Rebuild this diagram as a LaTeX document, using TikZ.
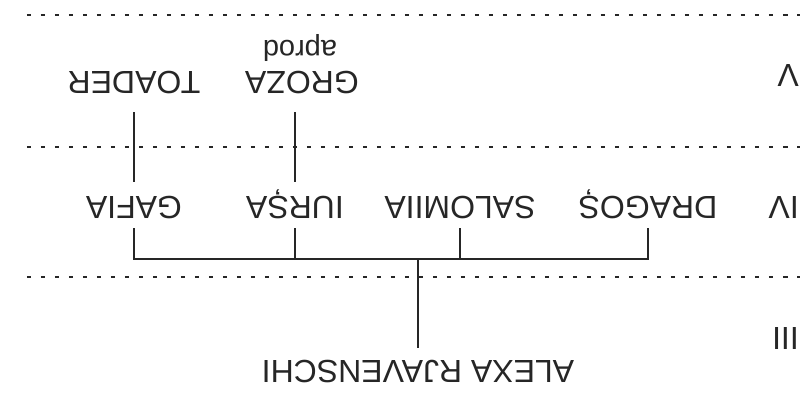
\documentclass[tikz,border=0pt]{standalone}
\usepackage{fontspec}
\setmainfont{Liberation Sans}
\definecolor{ink}{HTML}{262626}
\begin{document}
\begin{tikzpicture}[x=1pt,y=1pt,rotate=180,transform shape,
  person/.style={inner sep=0pt, text height=23pt, text depth=0pt,
    font=\fontsize{32}{38}\selectfont, text=ink, anchor=base},
  gen/.style={person, anchor=base west},
  note/.style={inner sep=0pt, font=\fontsize{29}{34}\selectfont, text=ink, anchor=base},
  conn/.style={draw=ink, line width=2.2pt},
  sep/.style={draw=ink, line width=2pt, dash pattern=on 4.5pt off 9.5pt}]
\useasboundingbox (0,0) rectangle (803,-406);
% generation separators
\coordinate (s1a) at (776,-129); \coordinate (s1b) at (3,-129);
\coordinate (s2a) at (776,-259); \coordinate (s2b) at (3,-259);
\coordinate (s3a) at (776,-391); \coordinate (s3b) at (3,-391);
\draw[sep] (s1a) -- (s1b);
\draw[sep] (s2a) -- (s2b);
\draw[sep] (s3a) -- (s3b);
% generation labels
\node[gen] (g3) at (4,-78) {III};
\node[gen] (g4) at (4,-209) {IV};
\node[gen] (g5) at (4,-341) {V};
% people
\node[person] (alexa) at (385,-45) {ALEXA RJAVENSCHI};
\node[person] (dragos) at (155,-209) {DRAGOȘ};
\node[person] (salomiia) at (343,-209) {SALOMIIA};
\node[person] (iursa) at (508,-209) {IURȘA};
\node[person] (gafia) at (669,-209) {GAFIA};
\node[person] (groza) at (501,-334) {GROZA};
\node[person] (toader) at (669,-334) {TOADER};
\node[note] (aprod) at (503,-365) {aprod};
% connectors
\coordinate (bar) at (0,-147);
\draw[conn, shorten <=13pt] (alexa.south) -- (alexa.south |- bar);
\draw[conn, shorten <=8pt, shorten >=8pt] (dragos.north) -- (dragos.north |- bar)
  -- (gafia.north |- bar) -- (gafia.north);
\draw[conn, shorten >=8pt] (salomiia.north |- bar) -- (salomiia.north);
\draw[conn, shorten >=8pt] (iursa.north |- bar) -- (iursa.north);
\draw[conn, shorten <=15pt, shorten >=17pt] (gafia.south) -- (toader.north);
\draw[conn, shorten <=15pt, shorten >=17pt] (iursa.south) -- (iursa.south |- groza.north);
\end{tikzpicture}
\end{document}
